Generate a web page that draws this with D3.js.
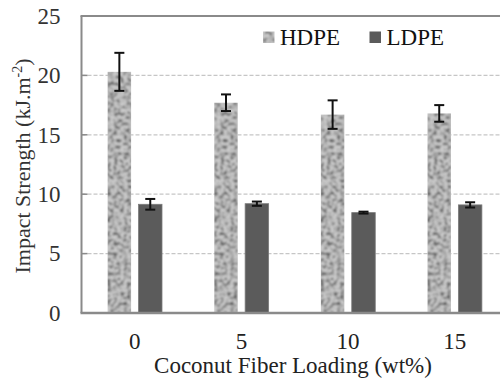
<!DOCTYPE html>
<html>
<head>
<meta charset="utf-8">
<script src="https://cdn.jsdelivr.net/npm/d3@7"></script>
<style>
  body { margin: 0; background: #fff; }
</style>
</head>
<body>
<svg class="svgChart"></svg>
<script>
// chart data
const loadings = ['0', '5', '10', '15'];
const series = ['HDPE', 'LDPE'];
const hdpeVals = [20.3, 17.7, 16.7, 16.8];
const hdpeErr = [1.6, 0.7, 1.2, 0.7];
const ldpeVals = [9.15, 9.2, 8.45, 9.1];
const ldpeErr = [0.45, 0.18, 0.08, 0.22];
const yTicks = [0, 5, 10, 15, 20, 25];

const FONT = 'Liberation Serif';
const W = 500, H = 378;
const margin = { top: 16, right: -8, bottom: 65, left: 81.5 };
const width = W - margin.left - margin.right;
const height = H - margin.top - margin.bottom;

const svg = d3.select('.svgChart')
  .attr('width', W)
  .attr('height', H)
  .attr('font-family', FONT);

// granite-like texture for HDPE bars
const defs = svg.append('defs');
const filt = defs.append('filter')
  .attr('id', 'granite')
  .attr('x', 0).attr('y', 0).attr('width', 1).attr('height', 1);
filt.append('feTurbulence')
  .attr('type', 'fractalNoise')
  .attr('baseFrequency', 0.3)
  .attr('numOctaves', 3)
  .attr('seed', 11)
  .attr('result', 'noise');
filt.append('feColorMatrix')
  .attr('in', 'noise')
  .attr('type', 'matrix')
  .attr('values', '0 0 0 0 0  0 0 0 0 0  0 0 0 0 0  -4.2 0 0 0 2.35')
  .attr('result', 'alphaNoise');
filt.append('feFlood').attr('flood-color', '#555555').attr('result', 'dark');
filt.append('feComposite').attr('in', 'dark').attr('in2', 'alphaNoise')
  .attr('operator', 'in').attr('result', 'spots');
filt.append('feGaussianBlur').attr('in', 'spots').attr('stdDeviation', 0.8).attr('result', 'soft');
filt.append('feComposite').attr('in', 'soft').attr('in2', 'SourceGraphic')
  .attr('operator', 'atop');

const g = svg.append('g')
  .attr('transform', `translate(${margin.left},${margin.top})`);

const x0 = d3.scaleBand()
  .domain(loadings)
  .range([0, width])
  .paddingInner(0.49)
  .paddingOuter(0.245);

const x1 = d3.scaleBand()
  .domain(series)
  .range([0, x0.bandwidth()])
  .paddingInner(0.24);

const y = d3.scaleLinear()
  .domain([0, 25])
  .range([height, 0]);

// gridlines
g.append('g')
  .selectAll('line')
  .data(yTicks.filter(d => d > 0 && d < 25))
  .enter()
  .append('line')
    .attr('x1', 0)
    .attr('x2', width)
    .attr('y1', d => y(d))
    .attr('y2', d => y(d))
    .attr('stroke', '#c6c6c6')
    .attr('stroke-width', 1.3)
    .attr('stroke-dasharray', '4,2');

// short inner ticks
g.append('g')
  .selectAll('line')
  .data(yTicks.filter(d => d > 0 && d < 25))
  .enter()
  .append('line')
    .attr('x1', 0)
    .attr('x2', 6)
    .attr('y1', d => y(d))
    .attr('y2', d => y(d))
    .attr('stroke', '#8a8a8a')
    .attr('stroke-width', 1.5);

const rows = loadings.map((l, i) => ({
  loading: l,
  values: [
    { key: 'HDPE', v: hdpeVals[i], e: hdpeErr[i] },
    { key: 'LDPE', v: ldpeVals[i], e: ldpeErr[i] }
  ]
}));

const groups = g.append('g')
  .selectAll('g')
  .data(rows)
  .enter()
  .append('g')
    .attr('transform', d => `translate(${x0(d.loading)},0)`);

groups.selectAll('rect')
  .data(d => d.values)
  .enter()
  .append('rect')
    .attr('x', d => x1(d.key))
    .attr('y', d => y(d.v))
    .attr('width', x1.bandwidth())
    .attr('height', d => y(0) - y(d.v))
    .attr('fill', d => d.key === 'HDPE' ? '#cacaca' : '#5b5b5b')
    .attr('stroke', d => d.key === 'HDPE' ? 'none' : '#7a7a7a')
    .attr('stroke-width', 0.8)
    .attr('filter', d => d.key === 'HDPE' ? 'url(#granite)' : null);

// error bars
const err = groups.selectAll('g.err')
  .data(d => d.values)
  .enter()
  .append('g')
    .attr('class', 'err')
    .attr('stroke', '#111')
    .attr('stroke-width', 2);

const cx = d => x1(d.key) + x1.bandwidth() / 2;
err.append('line')
  .attr('x1', cx).attr('x2', cx)
  .attr('y1', d => y(d.v + d.e))
  .attr('y2', d => y(d.v - d.e));
err.append('line')
  .attr('x1', d => cx(d) - 5).attr('x2', d => cx(d) + 5)
  .attr('y1', d => y(d.v + d.e)).attr('y2', d => y(d.v + d.e));
err.append('line')
  .attr('x1', d => cx(d) - 5).attr('x2', d => cx(d) + 5)
  .attr('y1', d => y(d.v - d.e)).attr('y2', d => y(d.v - d.e));

// frame lines
g.append('line')
  .attr('x1', 0).attr('x2', 0)
  .attr('y1', 0).attr('y2', height)
  .attr('stroke', '#8a8a8a').attr('stroke-width', 2);
g.append('line')
  .attr('x1', -1).attr('x2', width)
  .attr('y1', height).attr('y2', height)
  .attr('stroke', '#8a8a8a').attr('stroke-width', 2.5);
g.append('line')
  .attr('x1', -1).attr('x2', width)
  .attr('y1', 0).attr('y2', 0)
  .attr('stroke', '#8a8a8a').attr('stroke-width', 2);

// y tick labels
const yAxis = d3.axisLeft(y).tickValues(yTicks).tickSize(0).tickPadding(21);
g.append('g')
  .attr('class', 'yAxis')
  .call(yAxis)
  .attr('font-family', FONT)
  .attr('font-size', 23)
  .call(s => s.select('.domain').remove())
  .selectAll('text')
    .attr('fill', '#333');

// x tick labels
const xAxis = d3.axisBottom(x0).tickSize(0).tickPadding(20);
g.append('g')
  .attr('class', 'xAxis')
  .attr('transform', `translate(0,${height})`)
  .call(xAxis)
  .attr('font-family', FONT)
  .attr('font-size', 23)
  .call(s => s.select('.domain').remove())
  .selectAll('text')
    .attr('fill', '#222');

// axis titles
svg.append('text')
  .attr('x', 293)
  .attr('y', 373)
  .attr('text-anchor', 'middle')
  .attr('font-family', FONT)
  .attr('font-size', 23)
  .attr('fill', '#222')
  .text('Coconut Fiber Loading (wt%)');

const yt = svg.append('text')
  .attr('transform', 'translate(30,166) rotate(-90)')
  .attr('text-anchor', 'middle')
  .attr('font-family', FONT)
  .attr('font-size', 22)
  .attr('fill', '#333');
yt.append('tspan').text('Impact Strength (kJ.m');
yt.append('tspan').attr('dy', -8).attr('font-size', 14).text('-2');
yt.append('tspan').attr('dy', 8).text(')');

// legend
const legend = svg.append('g')
  .selectAll('g')
  .data(series)
  .enter()
  .append('g')
    .attr('transform', (d, i) => `translate(${263 + i * 106.5},31.5)`);

legend.append('rect')
  .attr('width', 11.5)
  .attr('height', 11.5)
  .attr('fill', d => d === 'HDPE' ? '#cacaca' : '#5b5b5b')
  .attr('filter', d => d === 'HDPE' ? 'url(#granite)' : null);

legend.append('text')
  .attr('x', 17)
  .attr('y', 13.5)
  .attr('font-family', FONT)
  .attr('font-size', 23)
  .attr('fill', '#111')
  .text(d => d);
</script>
</body>
</html>
